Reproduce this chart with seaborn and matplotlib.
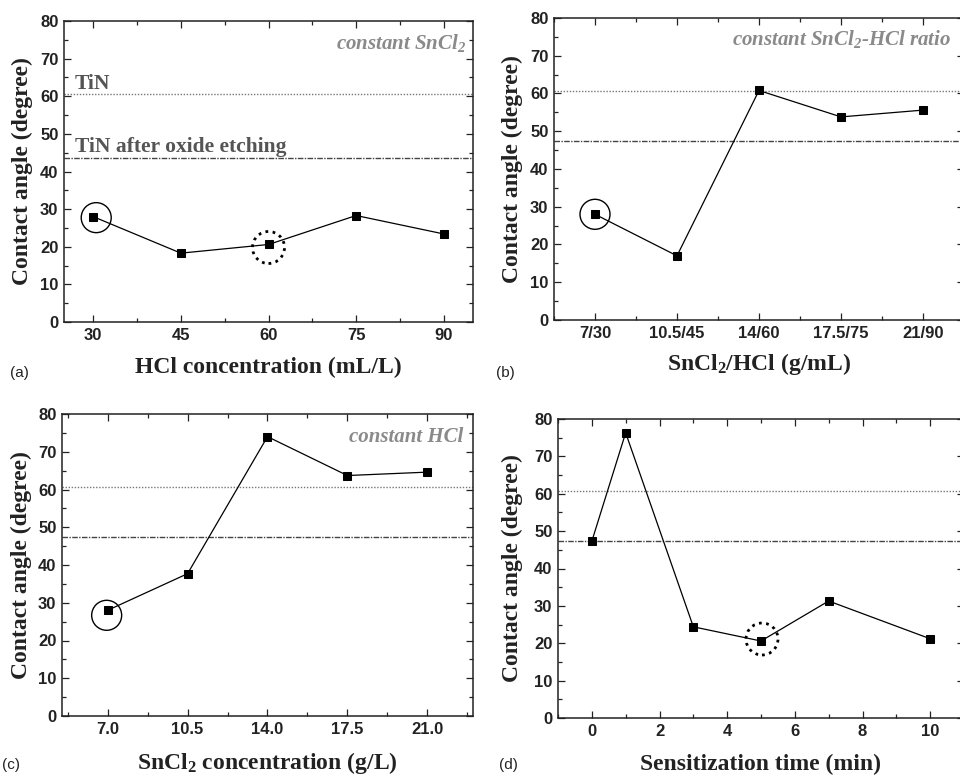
import matplotlib
matplotlib.use("Agg")
import matplotlib.pyplot as plt
import matplotlib.transforms as mtransforms
from matplotlib.patches import Circle
from matplotlib.ticker import MultipleLocator, AutoMinorLocator, FixedLocator
import seaborn as sns
import pandas as pd

# ---------------- data ----------------
a_x = [30, 45, 60, 75, 90]
a_y = [28.0, 18.3, 20.6, 28.3, 23.4]

b_labels = ["7/30", "10.5/45", "14/60", "17.5/75", "21/90"]
b_y = [28.0, 17.0, 60.8, 53.8, 55.6]

c_x = [7.0, 10.5, 14.0, 17.5, 21.0]
c_labels = ["7.0", "10.5", "14.0", "17.5", "21.0"]
c_y = [28.0, 37.7, 74.0, 63.7, 64.6]

d_x = [0, 1, 3, 5, 7, 10]
d_y = [47.3, 76.3, 24.4, 20.6, 31.3, 21.2]

TIN = 60.7
TIN_ETCH_A = 43.6
TIN_ETCH = 47.3

# --------------- style ----------------
sns.set_style("ticks")
plt.rcParams["font.family"] = ["Liberation Sans", "DejaVu Sans"]
plt.rcParams["mathtext.default"] = "regular"

SERIF = ["Liberation Serif", "DejaVu Serif"]
SANS = ["Liberation Sans", "DejaVu Sans"]

fig = plt.figure(figsize=(9.6, 7.76), dpi=100)

def px_axes(left, top, right, bottom):
    W, H = 960.0, 776.0
    return fig.add_axes([left / W, 1 - bottom / H, (right - left) / W, (bottom - top) / H])

ax_a = px_axes(64, 21, 473, 322)
ax_b = px_axes(554, 18, 964, 320)
ax_c = px_axes(62, 414, 473, 716)
ax_d = px_axes(558, 419, 964, 718)


def style_axes(ax, xlabel, ylab_x, xlab_y):
    for s in ax.spines.values():
        s.set_color("#222222")
        s.set_linewidth(1.1)
    ax.set_ylim(0, 80)
    ax.yaxis.set_major_locator(MultipleLocator(10))
    ax.yaxis.set_minor_locator(MultipleLocator(5))
    ax.tick_params(which="both", direction="in", top=True, right=True,
                   color="#222222", width=0.9)
    ax.tick_params(which="major", length=5, labelsize=12, pad=4)
    ax.tick_params(which="minor", length=3)
    for lab in ax.get_xticklabels() + ax.get_yticklabels():
        lab.set_fontweight("bold")
        lab.set_family(SANS)
        lab.set_color("#222222")
    ax.set_ylabel("Contact angle (degree)", fontsize=17, fontweight="bold",
                  family=SERIF, color="#222222")
    ax.set_xlabel(xlabel, fontsize=17, fontweight="bold", family=SERIF,
                  color="#222222")
    ax.yaxis.set_label_coords(ylab_x, 0.5)
    ax.xaxis.set_label_coords(0.5, xlab_y)


def ref_lines(ax, etch):
    ax.axhline(TIN, color="#777777", lw=1.0, ls=(0, (1, 1.2)), zorder=1)
    ax.axhline(etch, color="#444444", lw=1.0, ls=(0, (4, 1, 1, 1)), zorder=1)


def series(ax, x, y):
    df = pd.DataFrame({"x": x, "y": y})
    sns.lineplot(data=df, x="x", y="y", ax=ax, color="black", lw=0.9,
                 marker="s", markersize=5.5, markeredgecolor="black",
                 markerfacecolor="black", sort=False, zorder=3)


def ring(ax, x, y, dx=0.0, dy=0.0, dotted=False, r=15):
    trans = fig.dpi_scale_trans + mtransforms.ScaledTranslation(x, y, ax.transData)
    c = Circle((dx / 100.0, dy / 100.0), r / 100.0, transform=trans,
               fill=False, edgecolor="black",
               lw=2.0 if dotted else 1.0,
               ls=(0, (1, 1.6)) if dotted else "-", zorder=4, clip_on=False)
    ax.add_patch(c)


def corner_text(ax, s, x, y):
    ax.text(x, y, s, transform=ax.transAxes, ha="right", va="baseline",
            fontsize=15, fontweight="bold", fontstyle="italic",
            family=SERIF, color="#8a8a8a")

# ---- (a)
ax = ax_a
ref_lines(ax, TIN_ETCH_A)
series(ax, a_x, a_y)
ax.set_xlim(25, 95)
ax.xaxis.set_major_locator(FixedLocator(a_x))
ax.xaxis.set_minor_locator(AutoMinorLocator(2))
style_axes(ax, "HCl concentration (mL/L)", -0.076, -0.116)
ring(ax, a_x[0], a_y[0], dx=3, dy=-1)
ring(ax, a_x[2], a_y[2], dx=0, dy=-3, dotted=True, r=16)
corner_text(ax, "constant SnCl$_{2}$", 0.985, 0.907)
blend = mtransforms.blended_transform_factory(ax.transAxes, ax.transData)
ax.text(0.027, TIN + 1.3, "TiN", transform=blend, fontsize=15.5,
        fontweight="bold", family=SERIF, color="#555555", va="baseline")
ax.text(0.027, TIN_ETCH_A + 1.5, "TiN after oxide etching", transform=blend,
        fontsize=15.5, fontweight="bold", family=SERIF, color="#555555",
        va="baseline")

# ---- (b)
ax = ax_b
ref_lines(ax, TIN_ETCH)
b_pos = list(range(len(b_labels)))
series(ax, b_pos, b_y)
ax.set_xlim(-0.5, 4.5)
ax.xaxis.set_major_locator(FixedLocator(b_pos))
ax.set_xticklabels(b_labels)
ax.xaxis.set_minor_locator(AutoMinorLocator(2))
style_axes(ax, "SnCl$_{2}$/HCl (g/mL)", -0.076, -0.103)
ring(ax, b_pos[0], b_y[0])
corner_text(ax, "constant SnCl$_{2}$-HCl ratio", 0.97, 0.91)

# ---- (c)
ax = ax_c
ref_lines(ax, TIN_ETCH)
series(ax, c_x, c_y)
ax.set_xlim(5, 23)
ax.xaxis.set_major_locator(FixedLocator(c_x))
ax.set_xticklabels(c_labels)
ax.xaxis.set_minor_locator(AutoMinorLocator(2))
style_axes(ax, "SnCl$_{2}$ concentration (g/L)", -0.072, -0.114)
ring(ax, c_x[0], c_y[0], dx=-1, dy=-5)
corner_text(ax, "constant HCl", 0.976, 0.907)

# ---- (d)
ax = ax_d
ref_lines(ax, TIN_ETCH)
series(ax, d_x, d_y)
ax.set_xlim(-1, 11)
ax.xaxis.set_major_locator(MultipleLocator(2))
ax.xaxis.set_minor_locator(MultipleLocator(1))
style_axes(ax, "Sensitization time (min)", -0.086, -0.12)
ring(ax, d_x[3], d_y[3], dx=1, dy=2, dotted=True, r=16)

# panel labels
for s, x, y in [("(a)", 0.010, 0.519), ("(b)", 0.517, 0.519),
                ("(c)", 0.002, 0.014), ("(d)", 0.520, 0.014)]:
    fig.text(x, y, s, fontsize=11, family=SANS, color="#222222", va="center")

fig.savefig("out.png", dpi=100)
